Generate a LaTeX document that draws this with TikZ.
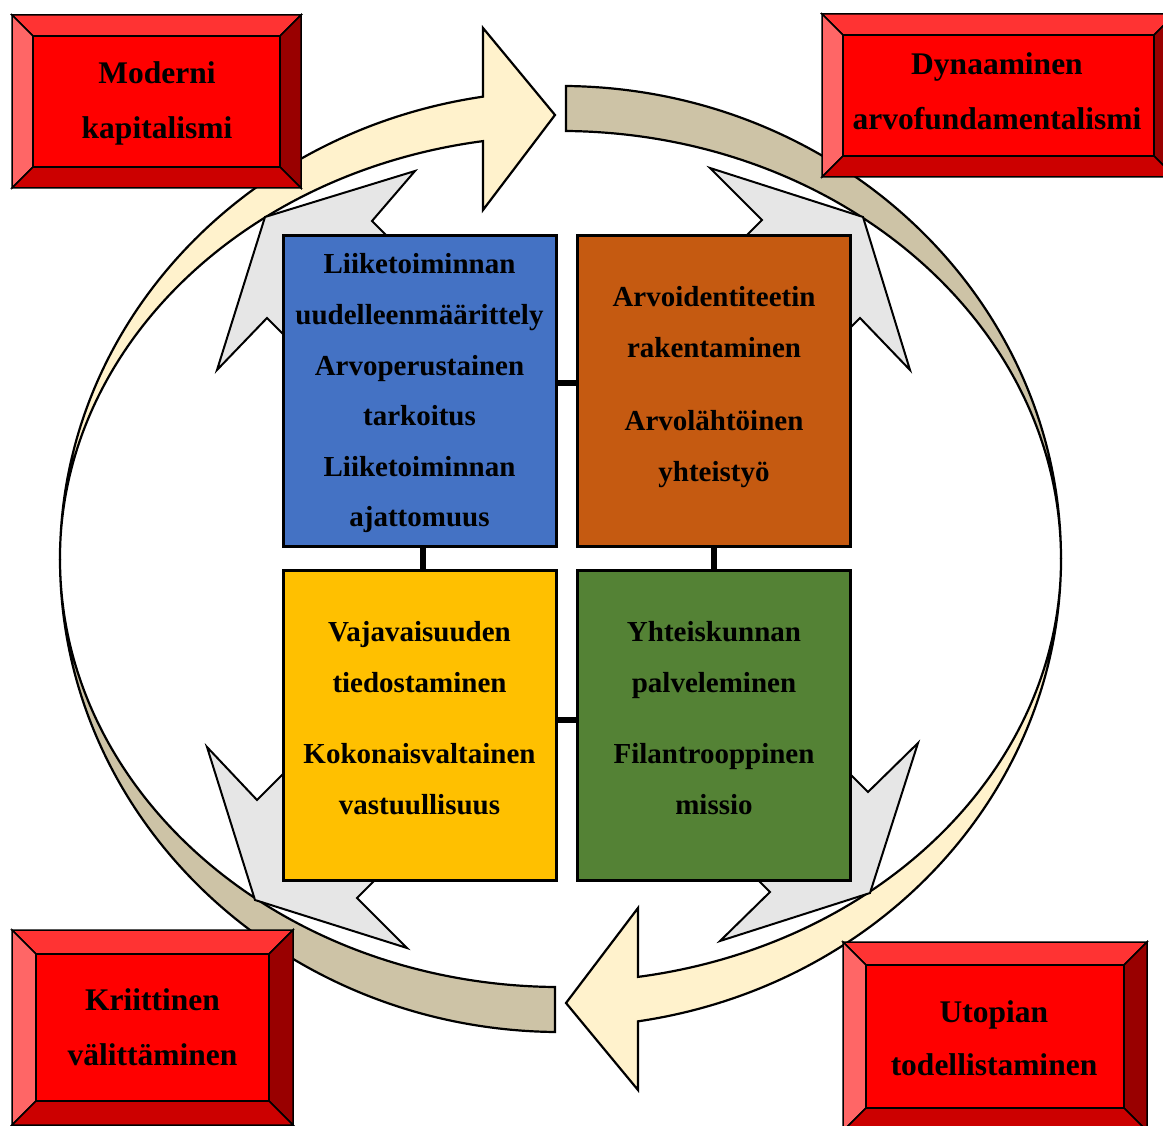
\documentclass[tikz,border=0pt]{standalone}
\usepackage{fontspec}
\setmainfont{Liberation Serif}
\usetikzlibrary{calc}

\definecolor{creamfill}{HTML}{FFF2CC}
\definecolor{tanfill}{HTML}{CDC3A6}
\definecolor{greyfill}{HTML}{E6E6E6}
\definecolor{boxblue}{HTML}{4472C4}
\definecolor{boxorange}{HTML}{C55A11}
\definecolor{boxyellow}{HTML}{FFC000}
\definecolor{boxgreen}{HTML}{548235}
\definecolor{bevtop}{HTML}{FF3333}
\definecolor{bevleft}{HTML}{FF6666}
\definecolor{bevright}{HTML}{990000}
\definecolor{bevbottom}{HTML}{CC0000}
\definecolor{bevface}{HTML}{FF0000}

\tikzset{
  band/.style={draw=black, line width=2.2pt, line join=miter},
  chevron/.style={draw=black, fill=greyfill, line width=2pt, line join=miter},
  cbox/.style={draw=black, line width=3pt, minimum width=273pt, minimum height=310pt, inner sep=0pt},
  conn/.style={draw=black, line width=6pt},
  bev/.style={draw=black, line width=1.5pt, line join=miter},
  bigtxt/.style={inner sep=0pt, anchor=base, font=\fontsize{31.5}{36}\selectfont\bfseries},
  smalltxt/.style={inner sep=0pt, anchor=base, font=\fontsize{29}{34}\selectfont\bfseries},
}

% bevelled label plate: name, left, top, right, bottom, bevel depth
\newcommand\drawbevel[6]{%
  \coordinate (#1-o1) at (#2,#3);
  \coordinate (#1-o2) at (#4,#3);
  \coordinate (#1-o3) at (#4,#5);
  \coordinate (#1-o4) at (#2,#5);
  \coordinate (#1-i1) at (#2+#6,#3+#6);
  \coordinate (#1-i2) at (#4-#6,#3+#6);
  \coordinate (#1-i3) at (#4-#6,#5-#6);
  \coordinate (#1-i4) at (#2+#6,#5-#6);
  \path[bev, fill=bevtop] (#1-o1) -- (#1-o2) -- (#1-i2) -- (#1-i1) -- cycle;
  \path[bev, fill=bevleft] (#1-o1) -- (#1-i1) -- (#1-i4) -- (#1-o4) -- cycle;
  \path[bev, fill=bevright] (#1-o2) -- (#1-o3) -- (#1-i3) -- (#1-i2) -- cycle;
  \path[bev, fill=bevbottom] (#1-o4) -- (#1-i4) -- (#1-i3) -- (#1-o3) -- cycle;
  \path[bev, fill=bevface] (#1-i1) rectangle (#1-i3);
}

\begin{document}
\begin{tikzpicture}[x=1pt, y=-1pt]
\useasboundingbox (0,0) rectangle (1163,1126);
\clip (0,0) rectangle (1163,1126);

% circular flow: two crescent arrows, each with a darker back part
\path[band, fill=creamfill] (60,559)
  arc[start angle=180, end angle=261.1, x radius=500.5, y radius=468]
  -- (483,28) -- (555,115) -- (483,210) -- (483,141.1)
  arc[start angle=261.1, end angle=180, x radius=500.5, y radius=423] -- cycle;
\path[band, fill=tanfill] (566,86)
  arc[start angle=270.63, end angle=360, x radius=500.5, y radius=473]
  arc[start angle=360, end angle=270.63, x radius=500.5, y radius=428] -- cycle;
\path[band, fill=creamfill] (1061,559)
  arc[start angle=0, end angle=81.1, x radius=500.5, y radius=468]
  -- (638,1090) -- (566,1003) -- (638,908) -- (638,976.9)
  arc[start angle=81.1, end angle=0, x radius=500.5, y radius=423] -- cycle;
\path[band, fill=tanfill] (555,1032)
  arc[start angle=90.63, end angle=180, x radius=500.5, y radius=473]
  arc[start angle=180, end angle=90.63, x radius=500.5, y radius=428] -- cycle;

% outward pointing arrows behind the four boxes
\path[chevron] (472,321) -- (372,221) -- (415,171) -- (265,217) -- (217,370) -- (267,318) -- (367,418) -- cycle;
\path[chevron] (662,320) -- (762,220) -- (710,168) -- (863,217) -- (910,370) -- (860,318) -- (760,418) -- cycle;
\path[chevron] (357,700) -- (257,800) -- (207,747) -- (255,900) -- (407,948) -- (357,898) -- (457,798) -- cycle;
\path[chevron] (768,692) -- (868,792) -- (918,743) -- (870,893) -- (720,941) -- (770,892) -- (670,792) -- cycle;

% central quadrants
\node[cbox, fill=boxblue]   (blue)   at (419.5,391) {};
\node[cbox, fill=boxorange] (orange) at (714,391)   {};
\node[cbox, fill=boxyellow] (yellow) at (419.5,725) {};
\node[cbox, fill=boxgreen]  (green)  at (714,725)   {};

\draw[conn] ([yshift=8pt]blue.east) -- ([yshift=8pt]orange.west);
\draw[conn] ([yshift=5pt]yellow.east) -- ([yshift=5pt]green.west);
\draw[conn] ([xshift=3pt]blue.south) -- ([xshift=3pt]yellow.north);
\draw[conn] (orange.south) -- (green.north);

\node[smalltxt] (b1) at (419.5,274) {Liiketoiminnan};
\node[smalltxt] (b2) at (419.5,324.5) {uudelleenmäärittely};
\node[smalltxt] (b3) at (419.5,375) {Arvoperustainen};
\node[smalltxt] (b4) at (419.5,425.5) {tarkoitus};
\node[smalltxt] (b5) at (419.5,476) {Liiketoiminnan};
\node[smalltxt] (b6) at (419.5,526.5) {ajattomuus};

\node[smalltxt] (o1) at (714,307) {Arvoidentiteetin};
\node[smalltxt] (o2) at (714,358) {rakentaminen};
\node[smalltxt] (o3) at (714,430) {Arvolähtöinen};
\node[smalltxt] (o4) at (714,481) {yhteistyö};

\node[smalltxt] (y1) at (419.5,641) {Vajavaisuuden};
\node[smalltxt] (y2) at (419.5,692) {tiedostaminen};
\node[smalltxt] (y3) at (419.5,763) {Kokonaisvaltainen};
\node[smalltxt] (y4) at (419.5,814) {vastuullisuus};

\node[smalltxt] (g1) at (714,641) {Yhteiskunnan};
\node[smalltxt] (g2) at (714,692) {palveleminen};
\node[smalltxt] (g3) at (714,763) {Filantrooppinen};
\node[smalltxt] (g4) at (714,814) {missio};

% corner plates
\drawbevel{tl}{12}{15}{301}{188}{21}
\drawbevel{tr}{822}{14}{1175}{177}{21}
\drawbevel{bl}{12}{930}{293}{1125}{24}
\drawbevel{br}{843}{942}{1147}{1131}{23}

\node[bigtxt] (tl1) at (157,84) {Moderni};
\node[bigtxt] (tl2) at (157,139) {kapitalismi};
\node[bigtxt] (tr1) at (997,75) {Dynaaminen};
\node[bigtxt] (tr2) at (997,130) {arvofundamentalismi};
\node[bigtxt] (bl1) at (152.5,1010) {Kriittinen};
\node[bigtxt] (bl2) at (152.5,1065) {välittäminen};
\node[bigtxt] (br1) at (994,1022) {Utopian};
\node[bigtxt] (br2) at (994,1075) {todellistaminen};
\end{tikzpicture}
\end{document}
